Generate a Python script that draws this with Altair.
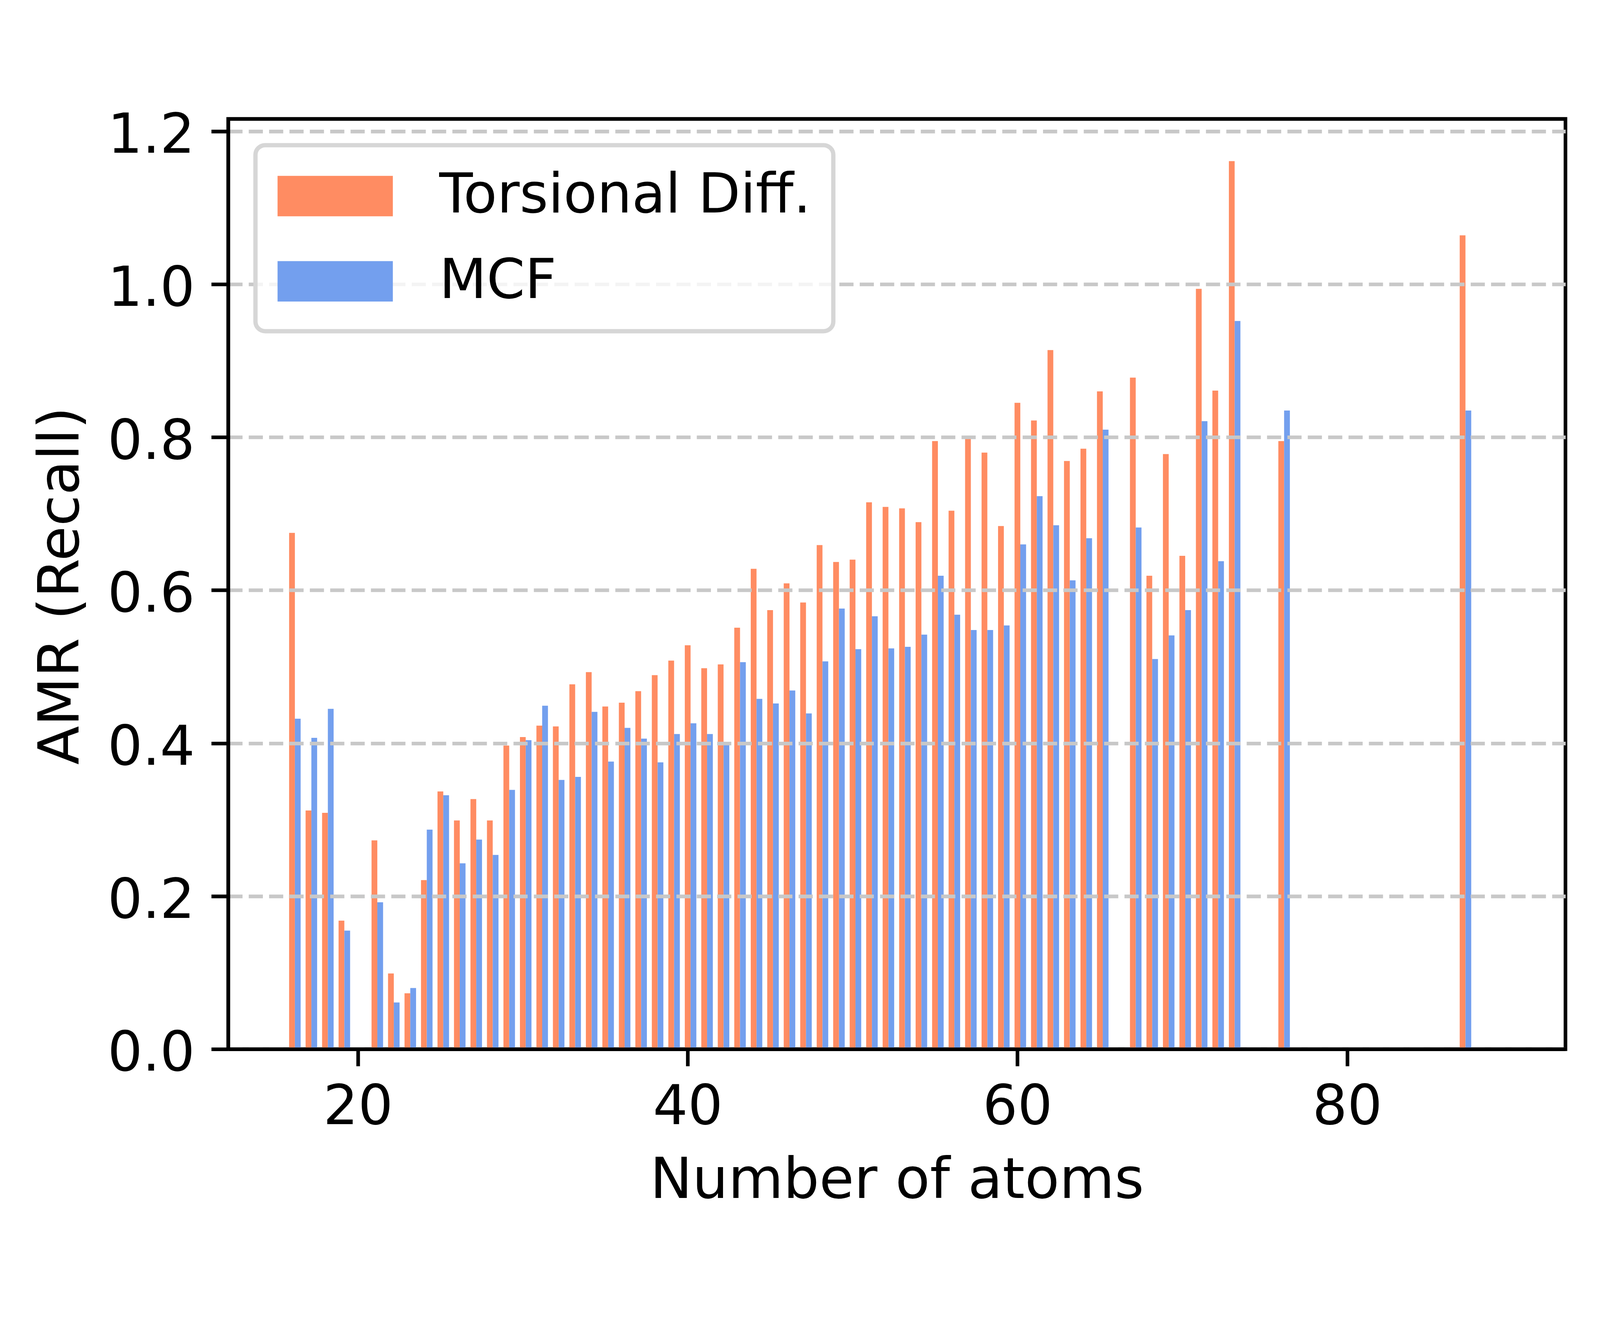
import altair as alt
import pandas as pd

# ---- data ----
atoms = [16, 17, 18, 19, 21, 22, 23, 24, 25, 26, 27, 28, 29, 30, 31, 32, 33, 34,
         35, 36, 37, 38, 39, 40, 41, 42, 43, 44, 45, 46, 47, 48, 49, 50, 51, 52,
         53, 54, 55, 56, 57, 58, 59, 60, 61, 62, 63, 64, 65, 67, 68, 69, 70, 71,
         72, 73, 76, 87]

torsional = [0.675, 0.312, 0.309, 0.168, 0.273, 0.099, 0.073, 0.221, 0.337, 0.299,
             0.327, 0.299, 0.397, 0.408, 0.423, 0.422, 0.477, 0.493, 0.448, 0.453,
             0.468, 0.489, 0.508, 0.528, 0.498, 0.503, 0.551, 0.628, 0.574, 0.609,
             0.584, 0.659, 0.637, 0.640, 0.715, 0.709, 0.707, 0.689, 0.795, 0.704,
             0.800, 0.780, 0.684, 0.845, 0.822, 0.914, 0.769, 0.785, 0.860, 0.878,
             0.619, 0.778, 0.645, 0.994, 0.861, 1.161, 0.795, 1.064]

mcf = [0.432, 0.407, 0.445, 0.155, 0.192, 0.061, 0.080, 0.287, 0.332, 0.243,
       0.274, 0.254, 0.339, 0.404, 0.449, 0.352, 0.356, 0.441, 0.376, 0.420,
       0.406, 0.375, 0.412, 0.426, 0.412, 0.401, 0.506, 0.458, 0.452, 0.469,
       0.439, 0.507, 0.576, 0.523, 0.566, 0.524, 0.526, 0.542, 0.619, 0.568,
       0.548, 0.548, 0.554, 0.660, 0.723, 0.685, 0.613, 0.668, 0.810, 0.682,
       0.510, 0.541, 0.574, 0.821, 0.638, 0.952, 0.835, 0.835]

series_names = ["Torsional Diff.", "MCF"]
series_colors = ["#FF8C62", "#739FEE"]
x_ticks = [20, 40, 60, 80]
y_ticks = [0.0, 0.2, 0.4, 0.6, 0.8, 1.0, 1.2]

BAR_W = 0.35
rows = []
for n, t, m in zip(atoms, torsional, mcf):
    rows.append({"atoms": n, "series": series_names[0], "value": t,
                 "x0": n - BAR_W / 2, "x1": n + BAR_W / 2})
    rows.append({"atoms": n, "series": series_names[1], "value": m,
                 "x0": n + BAR_W / 2, "x1": n + 1.5 * BAR_W})
df = pd.DataFrame(rows)

FONT = "DejaVu Sans"
# wide, flat legend patch (x spans -2..2, y spans -0.7..0.7 in symbol units)
LEGEND_PATH = "M-2,-0.7L2,-0.7L2,0.7L-2,0.7Z"

chart = alt.Chart(df).mark_bar().encode(
    x=alt.X("x0:Q",
            scale=alt.Scale(domain=[12.13, 93.24], nice=False, zero=False),
            axis=alt.Axis(values=x_ticks, title="Number of atoms", grid=False,
                          zindex=1, titleX=1937, titleY=431,
                          titleBaseline="alphabetic", labelPadding=42,
                          labelFlush=False)),
    x2="x1:Q",
    y=alt.Y("value:Q",
            scale=alt.Scale(domain=[0, 1.2162], nice=False),
            axis=alt.Axis(values=y_ticks, format=".1f", title="AMR (Recall)",
                          grid=True, zindex=1, titleX=-434, titleY=1352,
                          titleAngle=270, titleBaseline="alphabetic",
                          labelPadding=48, labelOffset=14,
                          gridDash=[41, 18], gridColor="#c8c8c8",
                          gridWidth=10.5)),
    y2=alt.datum(0),
    color=alt.Color("series:N",
                    scale=alt.Scale(domain=series_names, range=series_colors),
                    legend=alt.Legend(title=None)),
).properties(
    width=3874,
    height=2695,
    background="white",
    autosize=alt.AutoSizeParams(type="none"),
    padding={"left": 652, "top": 114, "right": 91, "bottom": 557},
).configure_view(
    stroke="black", strokeWidth=10.5, fill="white"
).configure_axis(
    domainColor="black", domainWidth=10.5,
    tickColor="black", tickWidth=10.5, tickSize=49,
    labelFont=FONT, labelFontSize=159, labelColor="black", labelLimit=2000,
    titleFont=FONT, titleFontSize=164, titleFontWeight="normal",
    titleColor="black", titleLimit=4000,
).configure_legend(
    orient="none", legendX=79, legendY=76, padding=64,
    fillColor="rgba(255,255,255,0.8)", strokeColor="#d6d6d6",
    strokeWidth=12.5, cornerRadius=28,
    symbolType=LEGEND_PATH, symbolSize=27889, symbolStrokeWidth=0,
    symbolOpacity=1, symbolOffset=83.5,
    labelFont=FONT, labelFontSize=159, labelColor="black",
    labelOffset=218, labelLimit=3000, rowPadding=83, zindex=2,
)

chart.save("out.html", embed_options={"renderer": "svg", "actions": False})
